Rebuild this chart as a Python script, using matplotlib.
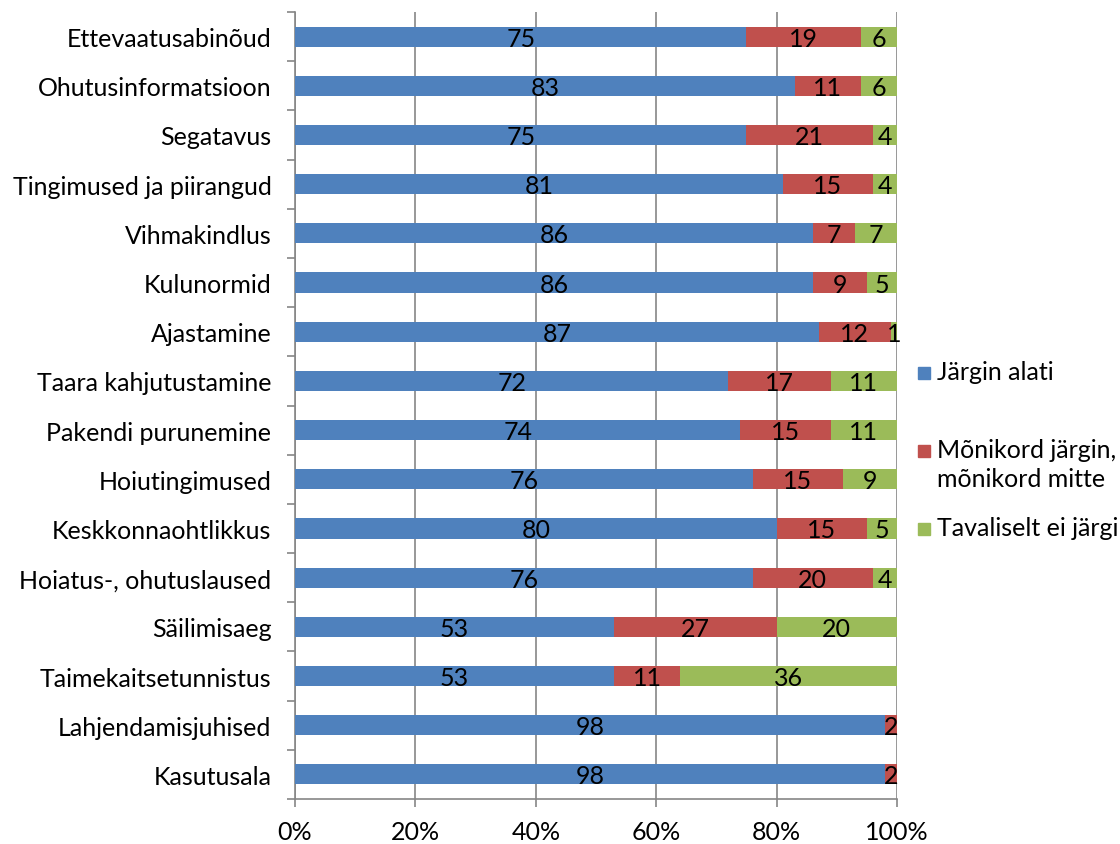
import numpy as np
import matplotlib.pyplot as plt
from matplotlib.patches import Rectangle
from matplotlib.ticker import FixedLocator

plt.rcParams['font.family'] = ['Lato', 'DejaVu Sans']

# Categories, top to bottom as in the chart
categories = ['Ettevaatusabinõud', 'Ohutusinformatsioon', 'Segatavus',
              'Tingimused ja piirangud', 'Vihmakindlus', 'Kulunormid',
              'Ajastamine', 'Taara kahjutustamine', 'Pakendi purunemine',
              'Hoiutingimused', 'Keskkonnaohtlikkus', 'Hoiatus-, ohutuslaused',
              'Säilimisaeg', 'Taimekaitsetunnistus', 'Lahjendamisjuhised',
              'Kasutusala']
always = [75, 83, 75, 81, 86, 86, 87, 72, 74, 76, 80, 76, 53, 53, 98, 98]
sometimes = [19, 11, 21, 15, 7, 9, 12, 17, 15, 15, 15, 20, 27, 11, 2, 2]
usually_not = [6, 6, 4, 4, 7, 5, 1, 11, 11, 9, 5, 4, 20, 36, 0, 0]

series_names = ['Järgin alati', 'Mõnikord järgin,\nmõnikord mitte', 'Tavaliselt ei järgi']
colors = ['#4F81BD', '#C0504D', '#9BBB59']

FS = 18
W, H = 1120, 845

fig = plt.figure(figsize=(W / 100, H / 100), dpi=100)
ax = fig.add_axes([295 / W, 1 - 800 / H, (897 - 295) / W, (800 - 13) / H])

n = len(categories)
y = np.arange(n)[::-1]
left = np.zeros(n)
for vals, name, col in zip([always, sometimes, usually_not], series_names, colors):
    vals = np.array(vals, dtype=float)
    bars = ax.barh(y, vals, left=left, height=0.41, color=col, label=name,
                   edgecolor='none', zorder=3)
    for b, v in zip(bars, vals):
        if v > 0:
            ax.text(b.get_x() + b.get_width() / 2, b.get_y() + b.get_height() / 2 - 0.03,
                    f'{int(v)}', ha='center', va='center', fontsize=FS,
                    color='black', zorder=4)
    left += vals

ax.set_xlim(0, 100)
ax.set_ylim(-0.5, n - 0.5)
ax.set_xticks(np.arange(0, 101, 20))
ax.set_xticklabels([f'{v}%' for v in range(0, 101, 20)], fontsize=FS)
ax.set_yticks(y)
ax.set_yticklabels(categories, fontsize=FS)
ax.tick_params(axis='y', length=0, pad=17)
ax.yaxis.set_minor_locator(FixedLocator(np.arange(-0.5, n, 1)))
ax.tick_params(axis='y', which='minor', length=6, color='#868686', width=1.2)
ax.tick_params(axis='x', length=6, color='#868686', width=1.2, pad=9)

ax.grid(axis='x', color='#868686', linewidth=1.2, zorder=0)
for s in ['top', 'right']:
    ax.spines[s].set_visible(False)
for s in ['left', 'bottom']:
    ax.spines[s].set_color('#868686')
    ax.spines[s].set_linewidth(1.2)

# legend drawn by hand to reproduce the uneven Excel spacing
legend_rows = [373, 451, 529]  # pixel rows of the first text line
for name, col, row in zip(series_names, colors, legend_rows):
    fig.patches.append(Rectangle((918 / W, 1 - (row + 7) / H), 12 / W, 12 / H,
                                 transform=fig.transFigure, color=col))
    fig.text(937 / W, 1 - (row - 12) / H, name, fontsize=FS, va='top', ha='left',
             linespacing=1.3)

fig.savefig('out.png', dpi=100)
